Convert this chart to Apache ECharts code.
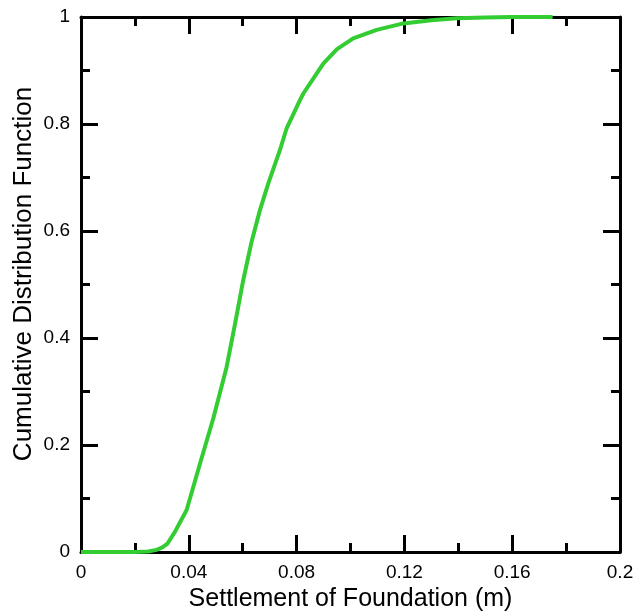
<!DOCTYPE html>
<html>
<head>
<meta charset="utf-8">
<script src="https://cdn.jsdelivr.net/npm/echarts@6/dist/echarts.min.js"></script>
<style>
  html, body { margin: 0; padding: 0; background: #fff; }
  #chart { width: 636px; height: 611px; }
</style>
</head>
<body>
<div id="chart"></div>
<script>
// Settlement values (m) and the cumulative probability at each one
const settlement = [
  0, 0.01, 0.02, 0.025, 0.028, 0.030, 0.032, 0.0349, 0.037, 0.0392,
  0.0442, 0.0491, 0.054, 0.0571, 0.0602, 0.0633, 0.0664, 0.0695, 0.0738, 0.0763,
  0.0813, 0.0825, 0.0899, 0.095, 0.101, 0.1097, 0.1196, 0.13, 0.1394, 0.15,
  0.16, 0.175
];
const cdf = [
  0, 0, 0, 0.001, 0.004, 0.008, 0.015, 0.038, 0.058, 0.0785,
  0.166, 0.250, 0.345, 0.425, 0.508, 0.580, 0.639, 0.689, 0.751, 0.792,
  0.845, 0.857, 0.913, 0.940, 0.960, 0.976, 0.988, 0.994, 0.9975, 0.999,
  1, 1
];

const xTicks = [0, 0.04, 0.08, 0.12, 0.16, 0.2];
const yTicks = [0, 0.2, 0.4, 0.6, 0.8, 1];

const FONT = '"Liberation Sans", Arial, sans-serif';
const line = { show: true, onZero: false, lineStyle: { color: '#000', width: 3 } };
const majorTick = { show: true, inside: true, length: 17, lineStyle: { color: '#000', width: 3 } };
const minorTick = { show: true, splitNumber: 2, length: 9, lineStyle: { color: '#000', width: 3 } };
const fmt = v => String(Number(v.toFixed(4)));

const xBase = {
  type: 'value', min: xTicks[0], max: xTicks[xTicks.length - 1], interval: 0.04,
  axisLine: line, axisTick: majorTick, minorTick: minorTick, splitLine: { show: false }
};
const yBase = {
  type: 'value', min: yTicks[0], max: yTicks[yTicks.length - 1], interval: 0.2,
  axisLine: line, axisTick: majorTick, minorTick: minorTick, splitLine: { show: false }
};

const chart = echarts.init(document.getElementById('chart'), null, { renderer: 'canvas' });
chart.setOption({
  animation: false,
  backgroundColor: '#fff',
  grid: { left: 81, right: 16, top: 17, bottom: 59, containLabel: false, outerBoundsMode: 'none' },
  xAxis: [
    Object.assign({}, xBase, {
      position: 'bottom',
      name: 'Settlement of Foundation (m)',
      nameLocation: 'middle', nameGap: 31,
      nameTextStyle: { fontFamily: FONT, fontSize: 25, color: '#000' },
      axisLabel: { margin: 11, fontFamily: FONT, fontSize: 19, color: '#000', formatter: fmt }
    }),
    Object.assign({}, xBase, { position: 'top', axisLabel: { show: false } })
  ],
  yAxis: [
    Object.assign({}, yBase, {
      position: 'left',
      axisLabel: { margin: 11, fontFamily: FONT, fontSize: 19, color: '#000', formatter: fmt }
    }),
    Object.assign({}, yBase, { position: 'right', axisLabel: { show: false } })
  ],
  graphic: [{
    type: 'text',
    x: 24, y: 274, rotation: Math.PI / 2,
    style: {
      text: 'Cumulative Distribution Function',
      font: '26px ' + FONT, fill: '#000',
      align: 'center', verticalAlign: 'middle'
    }
  }],
  series: [{
    type: 'line',
    data: settlement.map((s, i) => [s, cdf[i]]),
    showSymbol: false, smooth: false,
    lineStyle: { color: '#33CC33', width: 4 },
    z: 1
  }]
});
</script>
</body>
</html>
